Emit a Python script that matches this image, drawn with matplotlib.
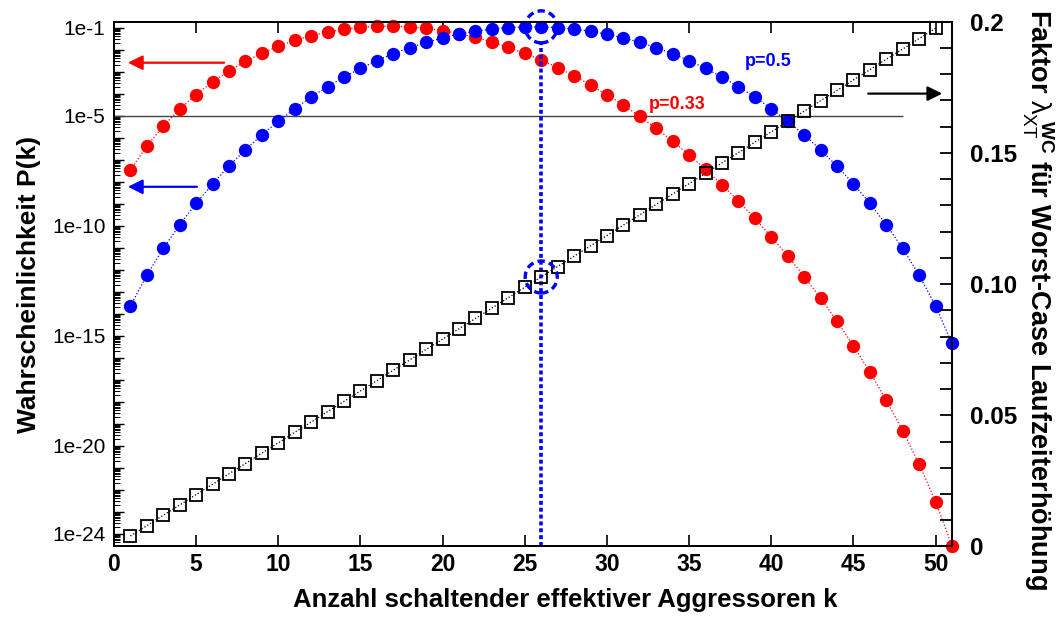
import numpy as np
import matplotlib
matplotlib.use("Agg")
import matplotlib.pyplot as plt
import matplotlib.patches as mpatches
import matplotlib.transforms as mtransforms
from matplotlib.ticker import FixedLocator, LogLocator, NullFormatter

plt.rcParams['font.family'] = ['Liberation Sans', 'DejaVu Sans']
plt.rcParams['mathtext.fontset'] = 'custom'
plt.rcParams['mathtext.rm'] = 'Liberation Sans'
plt.rcParams['mathtext.it'] = 'Liberation Sans'
plt.rcParams['mathtext.bf'] = 'Liberation Sans:bold'

# ---------------- data ----------------
k_values = list(range(1, 52))
k_factor = list(range(1, 51))

# log10 P(k), p = 0.5 (blue)
log_p_050 = [-13.65, -12.25, -11.03, -9.96, -8.98, -8.10, -7.29, -6.55, -5.87, -5.25,
             -4.68, -4.15, -3.68, -3.24, -2.85, -2.50, -2.18, -1.91, -1.67, -1.46,
             -1.29, -1.16, -1.06, -0.99, -0.96, -0.96, -0.99, -1.06, -1.16, -1.29,
             -1.46, -1.67, -1.91, -2.18, -2.50, -2.85, -3.24, -3.68, -4.15, -4.68,
             -5.25, -5.87, -6.55, -7.29, -8.10, -8.98, -9.96, -11.03, -12.25, -13.65,
             -15.35]

# log10 P(k), p = 0.33 (red)
log_p_033 = [-7.47, -6.38, -5.47, -4.70, -4.04, -3.46, -2.96, -2.53, -2.16, -1.84,
             -1.58, -1.36, -1.19, -1.07, -0.98, -0.94, -0.93, -0.96, -1.03, -1.13,
             -1.27, -1.44, -1.65, -1.89, -2.17, -2.47, -2.81, -3.19, -3.60, -4.04,
             -4.52, -5.03, -5.57, -6.16, -6.78, -7.44, -8.14, -8.88, -9.67, -10.50,
             -11.37, -12.31, -13.29, -14.34, -15.46, -16.65, -17.93, -19.32, -20.84, -22.54,
             -24.56]

# worst-case factor lambda_XT^WC (right axis)
factor_wc = [0.0040, 0.0079, 0.0119, 0.0158, 0.0198, 0.0237, 0.0277, 0.0316, 0.0356, 0.0395,
             0.0435, 0.0474, 0.0514, 0.0553, 0.0593, 0.0632, 0.0672, 0.0711, 0.0751, 0.0790,
             0.0830, 0.0869, 0.0909, 0.0948, 0.0988, 0.1027, 0.1067, 0.1106, 0.1146, 0.1185,
             0.1225, 0.1264, 0.1304, 0.1343, 0.1383, 0.1422, 0.1462, 0.1501, 0.1541, 0.1580,
             0.1620, 0.1659, 0.1699, 0.1738, 0.1778, 0.1817, 0.1857, 0.1896, 0.1936, 0.1975]

left_tick_exps = [-1, -5, -10, -15, -20, -24]
left_tick_labels = ['1e-1', '1e-5', '1e-10', '1e-15', '1e-20', '1e-24']
x_ticks = [0, 5, 10, 15, 20, 25, 30, 35, 40, 45, 50]
right_tick_labels = {0.0: '0', 0.05: '0.05', 0.10: '0.10', 0.15: '0.15', 0.20: '0.2'}

k_marked = 26
threshold = 1e-5

p050 = [10 ** v for v in log_p_050]
p033 = [10 ** v for v in log_p_033]

# ---------------- figure ----------------
fig = plt.figure(figsize=(10.59, 6.17), dpi=100)
ax = fig.add_axes([0.1076, 0.1143, 0.899 - 0.1076, 0.9648 - 0.1143])
ax.set_yscale('log')
ax.set_xlim(0, 51)
ax.set_ylim(10 ** -24.58, 10 ** -0.727)

# threshold line
ax.hlines(threshold, 0, 48, color='#444444', lw=1.0, zorder=2)

ax.plot(k_values, p033, linestyle=':', color='red', lw=0.9, marker='o', markersize=9.6,
        markeredgewidth=0, markerfacecolor='red', zorder=3, clip_on=False)
ax.plot(k_values, p050, linestyle=':', color='blue', lw=0.9, marker='o', markersize=9.6,
        markeredgewidth=0, markerfacecolor='blue', zorder=3, clip_on=False)

# vertical dashed marker line at k = 26
idx = k_values.index(k_marked)
ax.vlines(k_marked, 10 ** -24.58, p050[idx] * 10 ** -0.74, color='blue', lw=2.6,
          linestyles=[(0, (1.1, 0.8))], zorder=4)

# dashed circle around the blue point
def dashed_circle(axis, x, y):
    tr = fig.dpi_scale_trans + mtransforms.ScaledTranslation(x, y, axis.transData)
    c = mpatches.Circle((0, 0), radius=0.16, transform=tr, fill=False, edgecolor='blue',
                        lw=2.4, linestyle=(0, (2.2, 1.3)), zorder=5, clip_on=False)
    axis.add_patch(c)

dashed_circle(ax, k_marked, p050[idx])

# arrows pointing to the left axis
ax.annotate('', xy=(0.85, 10 ** -2.59), xytext=(6.7, 10 ** -2.59),
            arrowprops=dict(arrowstyle='-|>', color='red', lw=1.6, mutation_scale=22,
                            shrinkA=0, shrinkB=0))
ax.annotate('', xy=(0.85, 10 ** -8.23), xytext=(5.05, 10 ** -8.23),
            arrowprops=dict(arrowstyle='-|>', color='blue', lw=1.6, mutation_scale=22,
                            shrinkA=0, shrinkB=0))

ax.text(39.8, 10 ** -2.55, 'p=0.5', color='blue', fontsize=13, fontweight='bold',
        ha='center', va='center', zorder=6)
ax.text(34.3, 10 ** -4.5, 'p=0.33', color='red', fontsize=13, fontweight='bold',
        ha='center', va='center', zorder=6)

# left axis ticks
ax.yaxis.set_major_locator(FixedLocator([10.0 ** e for e in range(-24, 0)]))
lab_map = dict(zip(left_tick_exps, left_tick_labels))
ax.set_yticklabels([lab_map.get(e, '') for e in range(-24, 0)])
ax.yaxis.set_minor_locator(LogLocator(base=10, subs=np.arange(2, 10), numticks=60))
ax.yaxis.set_minor_formatter(NullFormatter())
ax.tick_params(axis='y', which='major', direction='in', length=7, width=1.0,
               labelsize=15, left=True, right=False, pad=6)
ax.tick_params(axis='y', which='minor', direction='in', length=4, width=0.7,
               left=True, right=False)

ax.set_xticks(x_ticks)
ax.set_xticklabels([str(t) for t in x_ticks], fontweight='bold')
ax.tick_params(axis='x', direction='in', length=8, width=1.2, labelsize=16.5,
               top=True, bottom=True, pad=5)

for s in ax.spines.values():
    s.set_linewidth(1.3)

ax.set_xlabel('Anzahl schaltender effektiver Aggressoren k', fontsize=18.5,
              fontweight='bold')
ax.xaxis.set_label_coords(0.538, -0.08)
ax.set_ylabel('Wahrscheinlichkeit P(k)', fontsize=19, fontweight='bold', labelpad=8)

# ---------------- right axis ----------------
ax2 = ax.twinx()
ax2.set_ylim(0, 0.2)
ax2.plot(k_factor, factor_wc, linestyle=':', color='black', lw=0.9, marker='s',
         markersize=8.8, markerfacecolor='none', markeredgecolor='black',
         markeredgewidth=1.3, zorder=4, clip_on=False)

dashed_circle(ax2, k_marked, factor_wc[k_factor.index(k_marked)])

ax2.annotate('', xy=(50.4, 0.1726), xytext=(45.9, 0.1726),
             arrowprops=dict(arrowstyle='-|>', color='black', lw=1.6, mutation_scale=22,
                             shrinkA=0, shrinkB=0))

rt = [round(i * 0.01, 2) for i in range(0, 21)]
ax2.yaxis.set_major_locator(FixedLocator(rt))
ax2.set_yticklabels([right_tick_labels.get(v, '') for v in rt], fontweight='bold')
ax2.tick_params(axis='y', direction='in', length=9, width=1.3, labelsize=17.5, pad=13)
for v, tl in zip(rt, ax2.yaxis.get_major_ticks()):
    if 0.005 < v < 0.085:
        tl.tick2line.set_color('green')
for s in ax2.spines.values():
    s.set_linewidth(1.3)

ax2.set_ylabel(r'Faktor $\lambda_{XT}^{\ \mathbf{WC}}$ für Worst-Case Laufzeiterhöhung',
               fontsize=19.5, fontweight='bold', rotation=-90)
ax2.yaxis.set_label_coords(1.123, 0.47)

fig.savefig('out.png', dpi=100)
